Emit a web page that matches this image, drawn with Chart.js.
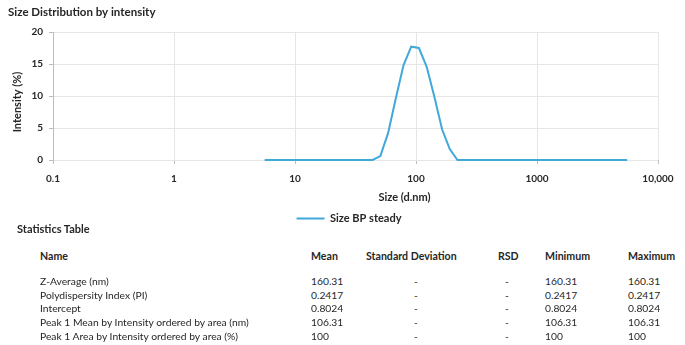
<!DOCTYPE html>
<html>
<head>
<meta charset="utf-8">
<script src="https://cdn.jsdelivr.net/npm/chart.js@4"></script>
<style>
  html, body { margin: 0; padding: 0; background: #fff; }
  #wrap { position: relative; width: 685px; height: 345px; overflow: hidden; font-family: Lato, "Liberation Sans", sans-serif; color: #262626; }
  #chartBox { position: absolute; left: 0; top: 0; width: 685px; height: 234px; }
  .t { position: absolute; white-space: nowrap; font-size: 10.3px; line-height: 12px; }
  .b { font-weight: bold; font-size: 10.6px; }
  .h { font-weight: bold; font-size: 11px; }
</style>
</head>
<body>
<div id="wrap">
  <div id="chartBox"><canvas id="c"></canvas></div>
  <div id="table"></div>
</div>
<script>
// ---- data ----
const chartTitle = "Size Distribution by intensity";
const xAxisTitle = "Size (d.nm)";
const yAxisTitle = "Intensity (%)";
const seriesName = "Size BP steady";
const sizes = [5.615, 6.503, 7.531, 8.721, 10.10, 11.70, 13.54, 15.69, 18.17, 21.04, 24.36, 28.21,
  32.67, 37.84, 43.82, 50.75, 58.77, 68.06, 78.82, 91.28, 105.7, 122.4, 141.8, 164.2, 190.1, 220.2,
  255.0, 295.3, 342.0, 396.1, 458.7, 531.2, 615.1, 712.4, 825.0, 955.4, 1106, 1281, 1484, 1718,
  1990, 2305, 2669, 3091, 3580, 4145, 4801, 5560];
const intensity = [0, 0, 0, 0, 0, 0, 0, 0, 0, 0, 0, 0,
  0, 0, 0, 0.6, 4.2, 9.6, 14.8, 17.7, 17.5, 14.6, 9.9, 4.8, 1.7, 0,
  0, 0, 0, 0, 0, 0, 0, 0, 0, 0, 0, 0, 0, 0,
  0, 0, 0, 0, 0, 0, 0, 0];
const xTickValues = [0.1, 1, 10, 100, 1000, 10000];
const xTickLabels = ["0.1", "1", "10", "100", "1000", "10,000"];
const yTickValues = [0, 5, 10, 15, 20];

const tableTitle = "Statistics Table";
const tableHeaders = ["Name", "Mean", "Standard Deviation", "RSD", "Minimum", "Maximum"];
const statNames = ["Z-Average (nm)", "Polydispersity Index (PI)", "Intercept",
  "Peak 1 Mean by Intensity ordered by area (nm)", "Peak 1 Area by Intensity ordered by area (%)"];
const statMean = ["160.31", "0.2417", "0.8024", "106.31", "100"];
const statSD = ["-", "-", "-", "-", "-"];
const statRSD = ["-", "-", "-", "-", "-"];
const statMin = ["160.31", "0.2417", "0.8024", "106.31", "100"];
const statMax = ["160.31", "0.2417", "0.8024", "106.31", "100"];

// ---- chart ----
const lineColor = "#41a8d9";
const textColor = "#262626";
const gridColor = "#e6e6e6";
const axisColor = "#bdbdbd";
const tickFont = "bold 10px Lato";

// width of the widest y tick label, used to right-align the (unclipped) mirrored labels
const mctx = document.createElement("canvas").getContext("2d");
mctx.font = tickFont;
const yLabelWidest = Math.max(...yTickValues.map(v => mctx.measureText(String(v)).width));

const textPlugin = {
  id: "texts",
  afterDraw(chart) {
    const ctx = chart.ctx, a = chart.chartArea;
    ctx.save();
    ctx.fillStyle = textColor;
    ctx.textBaseline = "middle";
    ctx.font = "bold 11.5px Lato";
    ctx.textAlign = "left";
    ctx.fillText(chartTitle, 8, 12);
    ctx.font = "bold 11px Lato";
    ctx.textAlign = "center";
    ctx.fillText(xAxisTitle, a.left + 351.5, a.bottom + 37);
    ctx.translate(a.left - 36, a.top + 70);
    ctx.rotate(-Math.PI / 2);
    ctx.fillText(yAxisTitle, 0, 0);
    ctx.restore();
  }
};

new Chart(document.getElementById("c"), {
  type: "line",
  data: {
    datasets: [{
      label: seriesName,
      data: sizes.map((s, i) => ({ x: s, y: intensity[i] })),
      borderColor: lineColor,
      backgroundColor: lineColor,
      borderWidth: 2,
      pointRadius: 0,
      tension: 0,
      fill: false,
      clip: false
    }]
  },
  options: {
    responsive: true,
    maintainAspectRatio: false,
    animation: false,
    layout: { padding: { left: 40, right: 27, top: 32, bottom: 0 } },
    plugins: {
      title: { display: false },
      tooltip: { enabled: false },
      legend: {
        position: "bottom",
        labels: {
          boxWidth: 28, boxHeight: 0, padding: 8,
          color: textColor,
          font: { family: "Lato", size: 11, weight: "bold" }
        }
      }
    },
    scales: {
      x: {
        type: "logarithmic",
        min: 0.1, max: 10000,
        afterBuildTicks: s => { s.ticks = xTickValues.map(v => ({ value: v })); },
        afterFit: s => { s.height = s.chart.height - (s.chart.legend ? s.chart.legend.height : 0) - 160; },
        ticks: {
          autoSkip: false, maxRotation: 0, padding: 9,
          color: textColor,
          font: { family: "Lato", size: 10, weight: "bold" },
          callback: (v, i) => xTickLabels[i]
        },
        grid: { color: gridColor, tickColor: axisColor, tickLength: 4 },
        border: { color: axisColor, z: -1 }
      },
      y: {
        min: 0, max: 20,
        afterBuildTicks: s => { s.ticks = yTickValues.map(v => ({ value: v })); },
        afterFit: s => { s.width = 13; },
        ticks: {
          mirror: true,
          crossAlign: "far",
          padding: -10 - yLabelWidest,
          color: textColor,
          font: { family: "Lato", size: 10, weight: "bold" }
        },
        grid: { color: gridColor, tickColor: axisColor, tickLength: 4 },
        border: { color: axisColor, z: -1 }
      }
    }
  },
  plugins: [textPlugin]
});

// ---- statistics table (HTML text) ----
const tbl = document.getElementById("table");
function cell(text, x, yc, cls, align) {
  const d = document.createElement("div");
  d.className = "t " + (cls || "");
  d.textContent = text;
  d.style.top = (yc - 6) + "px";
  if (align === "center") { d.style.left = (x - 20) + "px"; d.style.width = "40px"; d.style.textAlign = "center"; }
  else d.style.left = x + "px";
  tbl.appendChild(d);
}
cell(tableTitle, 17, 229, "h");
const colX = [40, 311, 366, 498, 545, 628];
tableHeaders.forEach((h, i) => cell(h, colX[i], 256, "b"));
const rowY = [281, 294.5, 308.3, 322, 335.7];
statNames.forEach((n, r) => {
  cell(n, colX[0], rowY[r]);
  cell(statMean[r], colX[1], rowY[r]);
  cell(statSD[r], 416, rowY[r], "", "center");
  cell(statRSD[r], 507, rowY[r], "", "center");
  cell(statMin[r], colX[4], rowY[r]);
  cell(statMax[r], colX[5], rowY[r]);
});
</script>
</body>
</html>
